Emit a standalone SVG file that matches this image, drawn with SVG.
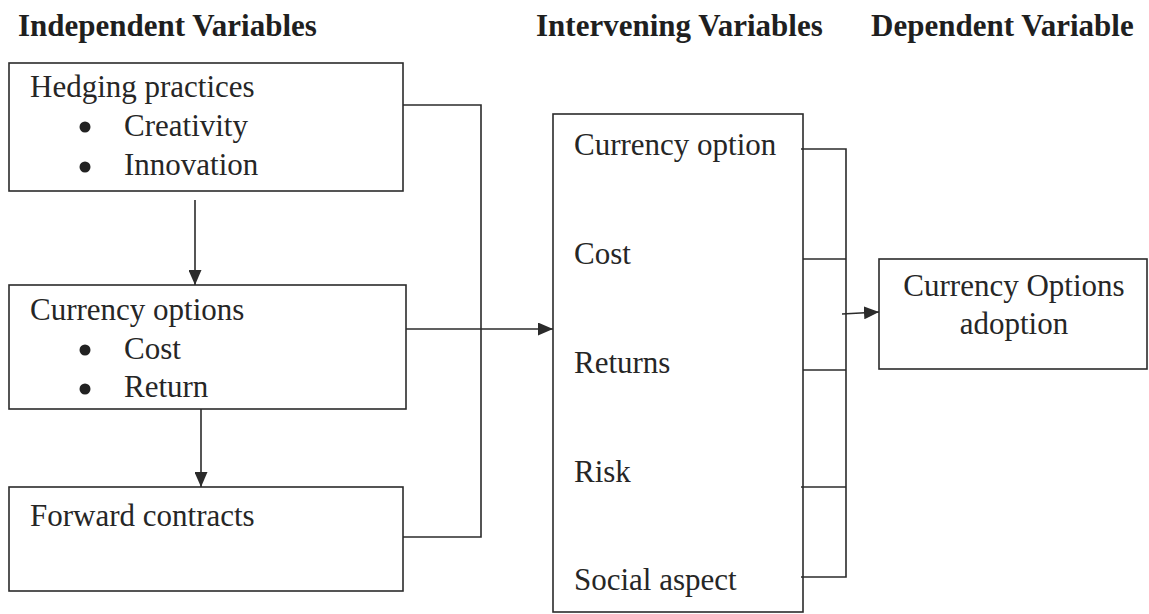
<svg xmlns="http://www.w3.org/2000/svg" width="1149" height="614" viewBox="0 0 1149 614">
  <style>
    .box { fill: none; stroke: #2b2b2b; stroke-width: 1.6; }
    .wire { fill: none; stroke: #2b2b2b; stroke-width: 1.6; }
    .dot { fill: #222222; }
    .t { font-family: "Liberation Serif", "Times New Roman", serif; font-size: 31px; fill: #262626; }
    .h { font-family: "Liberation Serif", "Times New Roman", serif; font-size: 31px; font-weight: bold; fill: #1f1f1f; }
  </style>
  <defs>
    <marker id="arrow" viewBox="0 0 15 13" refX="15" refY="6.5" markerWidth="15" markerHeight="13" markerUnits="userSpaceOnUse" orient="auto">
      <path d="M0,0 L15,6.5 L0,13 Z" fill="#2b2b2b"/>
    </marker>
  </defs>
  <rect width="1149" height="614" fill="#ffffff"/>

  <!-- column headings -->
  <g id="headings">
    <text class="h" x="18" y="36">Independent Variables</text>
    <text class="h" x="536" y="36">Intervening Variables</text>
    <text class="h" x="871" y="36">Dependent Variable</text>
  </g>

  <!-- independent variables -->
  <g id="hedging-practices">
    <rect class="box" x="9" y="63" width="394" height="128"/>
    <text class="t" x="30" y="97">Hedging practices</text>
    <circle class="dot" cx="85" cy="127" r="5.5"/>
    <text class="t" x="124" y="136">Creativity</text>
    <circle class="dot" cx="85" cy="167" r="5.5"/>
    <text class="t" x="124" y="175">Innovation</text>
  </g>

  <g id="currency-options">
    <rect class="box" x="9" y="285" width="397" height="124"/>
    <text class="t" x="30" y="320">Currency options</text>
    <circle class="dot" cx="85" cy="350" r="5.5"/>
    <text class="t" x="124" y="359">Cost</text>
    <circle class="dot" cx="85" cy="389" r="5.5"/>
    <text class="t" x="124" y="397">Return</text>
  </g>

  <g id="forward-contracts">
    <rect class="box" x="9" y="487" width="394" height="104"/>
    <text class="t" x="30" y="526">Forward contracts</text>
  </g>

  <!-- intervening variables -->
  <g id="intervening">
    <rect class="box" x="553" y="114" width="250" height="498"/>
    <text class="t" x="574" y="155">Currency option</text>
    <text class="t" x="574" y="264">Cost</text>
    <text class="t" x="574" y="373">Returns</text>
    <text class="t" x="574" y="482">Risk</text>
    <text class="t" x="574" y="590">Social aspect</text>
  </g>

  <!-- dependent variable -->
  <g id="adoption">
    <rect class="box" x="879" y="259" width="268" height="110"/>
    <text class="t" x="1014" y="296" text-anchor="middle">Currency Options</text>
    <text class="t" x="1014" y="334" text-anchor="middle">adoption</text>
  </g>

  <!-- connectors -->
  <g id="connectors">
    <path class="wire" d="M195,200 V285" marker-end="url(#arrow)"/>
    <path class="wire" d="M201,409 V487" marker-end="url(#arrow)"/>
    <path class="wire" d="M403,105 H481 V537 H403"/>
    <path class="wire" d="M406,329 H553" marker-end="url(#arrow)"/>
    <path class="wire" d="M801,149 H846 V577 H801"/>
    <path class="wire" d="M803,259 H846"/>
    <path class="wire" d="M803,370 H846"/>
    <path class="wire" d="M801,487 H846"/>
    <path class="wire" d="M842,314 L879,312" marker-end="url(#arrow)"/>
  </g>
</svg>
